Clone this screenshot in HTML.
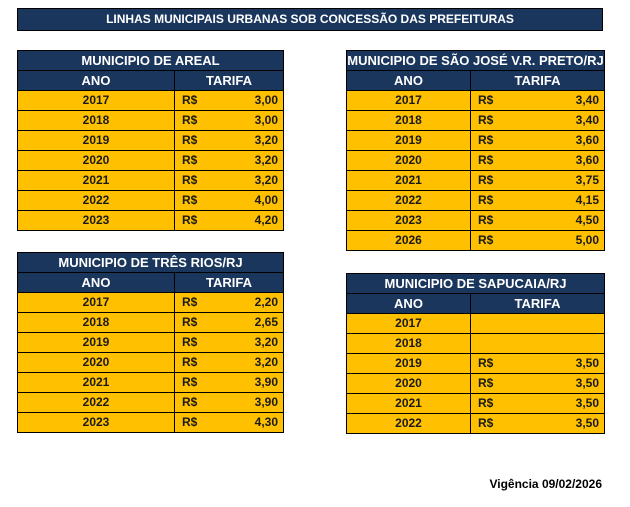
<!DOCTYPE html>
<html><head><meta charset="utf-8"><style>
body{margin:0;width:630px;height:507px;background:#fff;position:relative;font-family:"Liberation Sans",sans-serif;font-weight:bold;overflow:hidden}
.t{position:absolute;border-collapse:collapse;table-layout:fixed}
.t td{height:19px;padding:0;border:1px solid #000;font-size:12px;line-height:19px;color:#1a1a1a;background:#ffc000}
.t tr.h td{background:#1b365d;color:#fff;text-align:center;font-size:13px;border-color:#000}
.t td.y{text-align:center}
.t td.v{position:relative;padding-left:7px}
.t td.v span{position:absolute;right:5px;top:0}
#title{position:absolute;left:17px;top:8px;width:584px;height:21px;background:#1b365d;border:1px solid #000;color:#fff;text-align:center;font-size:12px;line-height:21px}
#vig{position:absolute;right:28px;top:477px;font-size:12px;color:#000}
</style></head><body>
<div id="title">LINHAS MUNICIPAIS URBANAS SOB CONCESSÃO DAS PREFEITURAS</div>

<table class="t" style="left:17px;top:50px;width:266px">
<colgroup><col style="width:157px"><col style="width:109px"></colgroup>
<tr class="h"><td colspan="2">MUNICIPIO DE AREAL</td></tr>
<tr class="h"><td>ANO</td><td>TARIFA</td></tr>
<tr><td class="y">2017</td><td class="v">R$<span>3,00</span></td></tr>
<tr><td class="y">2018</td><td class="v">R$<span>3,00</span></td></tr>
<tr><td class="y">2019</td><td class="v">R$<span>3,20</span></td></tr>
<tr><td class="y">2020</td><td class="v">R$<span>3,20</span></td></tr>
<tr><td class="y">2021</td><td class="v">R$<span>3,20</span></td></tr>
<tr><td class="y">2022</td><td class="v">R$<span>4,00</span></td></tr>
<tr><td class="y">2023</td><td class="v">R$<span>4,20</span></td></tr>
</table>

<table class="t" style="left:17px;top:252px;width:266px">
<colgroup><col style="width:157px"><col style="width:109px"></colgroup>
<tr class="h"><td colspan="2">MUNICIPIO DE TRÊS RIOS/RJ</td></tr>
<tr class="h"><td>ANO</td><td>TARIFA</td></tr>
<tr><td class="y">2017</td><td class="v">R$<span>2,20</span></td></tr>
<tr><td class="y">2018</td><td class="v">R$<span>2,65</span></td></tr>
<tr><td class="y">2019</td><td class="v">R$<span>3,20</span></td></tr>
<tr><td class="y">2020</td><td class="v">R$<span>3,20</span></td></tr>
<tr><td class="y">2021</td><td class="v">R$<span>3,90</span></td></tr>
<tr><td class="y">2022</td><td class="v">R$<span>3,90</span></td></tr>
<tr><td class="y">2023</td><td class="v">R$<span>4,30</span></td></tr>
</table>

<table class="t" style="left:346px;top:50px;width:258px">
<colgroup><col style="width:124px"><col style="width:134px"></colgroup>
<tr class="h"><td colspan="2">MUNICIPIO DE SÃO JOSÉ V.R. PRETO/RJ</td></tr>
<tr class="h"><td>ANO</td><td>TARIFA</td></tr>
<tr><td class="y">2017</td><td class="v">R$<span>3,40</span></td></tr>
<tr><td class="y">2018</td><td class="v">R$<span>3,40</span></td></tr>
<tr><td class="y">2019</td><td class="v">R$<span>3,60</span></td></tr>
<tr><td class="y">2020</td><td class="v">R$<span>3,60</span></td></tr>
<tr><td class="y">2021</td><td class="v">R$<span>3,75</span></td></tr>
<tr><td class="y">2022</td><td class="v">R$<span>4,15</span></td></tr>
<tr><td class="y">2023</td><td class="v">R$<span>4,50</span></td></tr>
<tr><td class="y">2026</td><td class="v">R$<span>5,00</span></td></tr>
</table>

<table class="t" style="left:346px;top:273px;width:258px">
<colgroup><col style="width:124px"><col style="width:134px"></colgroup>
<tr class="h"><td colspan="2">MUNICIPIO DE SAPUCAIA/RJ</td></tr>
<tr class="h"><td>ANO</td><td>TARIFA</td></tr>
<tr><td class="y">2017</td><td class="v"></td></tr>
<tr><td class="y">2018</td><td class="v"></td></tr>
<tr><td class="y">2019</td><td class="v">R$<span>3,50</span></td></tr>
<tr><td class="y">2020</td><td class="v">R$<span>3,50</span></td></tr>
<tr><td class="y">2021</td><td class="v">R$<span>3,50</span></td></tr>
<tr><td class="y">2022</td><td class="v">R$<span>3,50</span></td></tr>
</table>

<div id="vig">Vigência 09/02/2026</div>
</body></html>
